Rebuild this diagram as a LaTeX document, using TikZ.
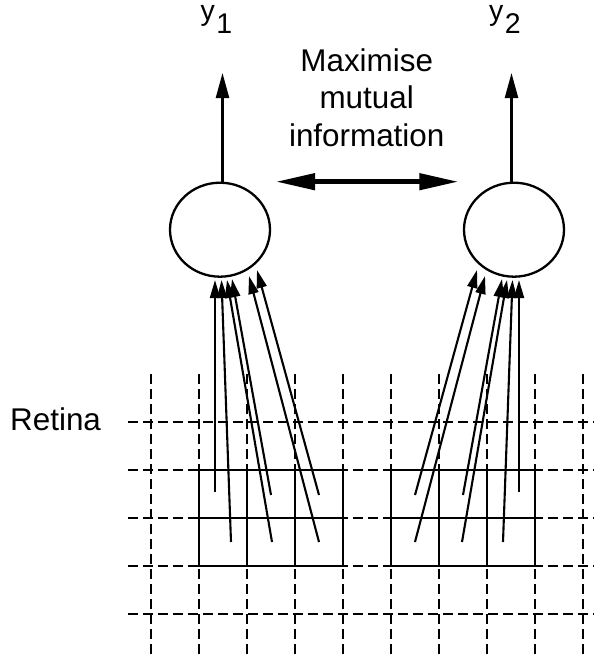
\documentclass[tikz,border=0pt]{standalone}
\usepackage{fontspec}
\setmainfont{Liberation Sans}
\usetikzlibrary{arrows.meta,shapes.geometric}
\begin{document}
\begin{tikzpicture}[x=1pt,y=-1pt,
  gridline/.style={line width=2.3pt,dash pattern=on 10pt off 5pt},
  boxline/.style={line width=2.3pt},
  neuron/.style={draw,ellipse,line width=2.3pt,minimum width=100pt,minimum height=94pt,inner sep=0pt},
  inarrow/.style={line width=2.1pt,-{Triangle[length=18pt,width=10pt]}},
  outarrow/.style={line width=2.3pt,-{Triangle[length=25pt,width=13pt]}},
  mutarrow/.style={line width=4.5pt,{Triangle[length=39pt,width=16pt]}-{Triangle[length=39pt,width=16pt]}},
  lbl/.style={inner sep=0pt,font=\fontsize{31.4}{37.5}\selectfont},
  ylbl/.style={inner sep=0pt,font=\fontsize{28.5}{33}\selectfont}]
\useasboundingbox (0,0) rectangle (595,659);

% retina grid
\foreach \x in {151,199,...,583} \draw[gridline] (\x,374) -- (\x,656);
\foreach \y in {422,470,518,566,614} \draw[gridline] (128,\y) -- (594,\y);

% receptive fields
\draw[boxline] (199,470) rectangle (343,566) (247,470) -- (247,566) (295,470) -- (295,566) (199,518) -- (343,518);
\draw[boxline] (391,470) rectangle (535,566) (439,470) -- (439,566) (487,470) -- (487,566) (391,518) -- (535,518);

% neurons
\node[neuron] (c1) at (220,229.7) {};
\node[neuron] (c2) at (514,229.7) {};

% outputs
\coordinate (o1) at (222.5,73);
\coordinate (o2) at (511.5,73);
\draw[outarrow] (c1.north -| o1) -- (o1);
\draw[outarrow] (c2.north -| o2) -- (o2);

% mutual information arrow
\coordinate (m1) at (276,181.7);
\coordinate (m2) at (458.3,181.7);
\draw[mutarrow] (m1) -- (m2);

% labels
\node[ylbl,anchor=base west] (y1) at (200.5,20.7) {y\hspace{1.5pt}\raisebox{-12.6pt}{1}};
\node[ylbl,anchor=base west] (y2) at (489,20.7) {y\hspace{1.5pt}\raisebox{-12.6pt}{2}};
\node[lbl,align=center,anchor=north] (mi) at (366.7,48.5) {Maximise\\mutual\\information};
\node[lbl,anchor=base west] (ret) at (10,430) {Retina};

% input connections, left
\coordinate (ls1) at (215,492);  \coordinate (lt1) at (215,280);
\coordinate (ls2) at (231,542);  \coordinate (lt2) at (221.5,280);
\coordinate (ls3) at (272,542);  \coordinate (lt3) at (227,280);
\coordinate (ls4) at (271,495);  \coordinate (lt4) at (232,279);
\coordinate (ls5) at (319,542);  \coordinate (lt5) at (249,276);
\coordinate (ls6) at (319,495);  \coordinate (lt6) at (257,270);
% input connections, right
\coordinate (rs1) at (519,492);  \coordinate (rt1) at (519,280);
\coordinate (rs2) at (503,542);  \coordinate (rt2) at (512.5,280);
\coordinate (rs3) at (462,542);  \coordinate (rt3) at (507,280);
\coordinate (rs4) at (463,495);  \coordinate (rt4) at (502,279);
\coordinate (rs5) at (415,542);  \coordinate (rt5) at (485,276);
\coordinate (rs6) at (415,495);  \coordinate (rt6) at (477,270);

\foreach \i in {1,...,6} {
  \draw[inarrow] (ls\i) -- (lt\i);
  \draw[inarrow] (rs\i) -- (rt\i);
}
\end{tikzpicture}
\end{document}
